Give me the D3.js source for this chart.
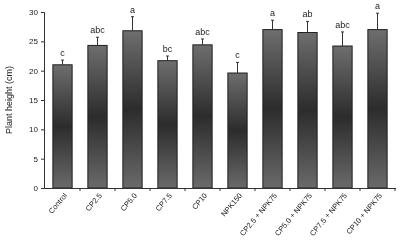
<!DOCTYPE html>
<html><head><meta charset="utf-8">
<script src="https://cdn.jsdelivr.net/npm/d3@7/dist/d3.min.js"></script>
<style>body{margin:0;background:#fff}svg{display:block;font-family:"Liberation Sans",Arial,sans-serif}</style>
</head><body><svg id="c" width="400" height="244"></svg>
<script>
const categories = ["Control","CP2.5","CP5.0","CP7.5","CP10","NPK150","CP2.5 + NPK75","CP5.0 + NPK75","CP7.5 + NPK75","CP10 + NPK75"];
const means = [21.0, 24.3, 26.8, 21.7, 24.4, 19.6, 27.0, 26.5, 24.2, 27.0];
const errors = [0.8, 1.4, 2.4, 0.8, 1.0, 1.8, 1.6, 1.9, 2.4, 2.8];
const letters = ["c","abc","a","bc","abc","c","a","ab","abc","a"];
const yTicks = [0,5,10,15,20,25,30];

const svg = d3.select("#c");
const x = d3.scaleBand().domain(categories).range([45,395]).paddingInner(0.45).paddingOuter(0.225);
const y = d3.scaleLinear().domain([0,30]).range([188,12]);

const defs = svg.append("defs");
const g = defs.append("linearGradient").attr("id","bg").attr("x1",0).attr("y1",0).attr("x2",0).attr("y2",1);
g.append("stop").attr("offset","0%").attr("stop-color","#6e6e6e");
g.append("stop").attr("offset","50%").attr("stop-color","#2c2c2c");
g.append("stop").attr("offset","100%").attr("stop-color","#6a6a6a");
const f = defs.append("filter").attr("id","gray").attr("filterUnits","userSpaceOnUse")
  .attr("x",0).attr("y",0).attr("width",400).attr("height",244);
f.append("feColorMatrix").attr("type","saturate").attr("values",0);

const root = svg.append("g").attr("filter","url(#gray)");
root.append("rect").attr("width",400).attr("height",244).attr("fill","#fff");

// bars
root.selectAll("rect.bar").data(categories).join("rect").attr("class","bar")
  .attr("x", d=>x(d)).attr("width", x.bandwidth())
  .attr("y", (d,i)=>y(means[i])).attr("height",(d,i)=>y(0)-y(means[i]))
  .attr("fill","url(#bg)").attr("stroke","#1e1e1e").attr("stroke-width",1);

// error bars
const cx = d=>x(d)+x.bandwidth()/2;
root.selectAll("line.err").data(categories).join("line").attr("class","err")
  .attr("x1",cx).attr("x2",cx)
  .attr("y1",(d,i)=>y(means[i])).attr("y2",(d,i)=>y(means[i]+errors[i]))
  .attr("stroke","#333").attr("stroke-width",1);
root.selectAll("line.cap").data(categories).join("line").attr("class","cap")
  .attr("x1",d=>cx(d)-1.5).attr("x2",d=>cx(d)+1.5)
  .attr("y1",(d,i)=>y(means[i]+errors[i])).attr("y2",(d,i)=>y(means[i]+errors[i]))
  .attr("stroke","#333").attr("stroke-width",1);

// letters
root.selectAll("text.let").data(categories).join("text").attr("class","let")
  .attr("x",cx).attr("y",(d,i)=>y(means[i]+errors[i])-4)
  .attr("text-anchor","middle").attr("font-size",9).attr("fill","#222")
  .text((d,i)=>letters[i]);

// y axis
const ya = root.append("g").attr("transform","translate(44,0)")
  .call(d3.axisLeft(y).tickValues(yTicks).tickSize(3).tickPadding(3));
ya.select(".domain").attr("stroke","#333");
ya.selectAll("line").attr("stroke","#333");
ya.selectAll("text").attr("font-size",8).attr("fill","#222").attr("font-family","Liberation Sans, Arial, sans-serif");

// x axis: line with ticks between categories
root.append("line").attr("x1",44).attr("x2",396).attr("y1",188.5).attr("y2",188.5).attr("stroke","#333");
const bounds = categories.map(c=>x(c)+x.bandwidth()+x.step()*x.paddingInner()/2);
root.selectAll("line.xt").data(bounds).join("line").attr("class","xt")
  .attr("x1",d=>d).attr("x2",d=>d).attr("y1",188).attr("y2",191).attr("stroke","#333");

root.selectAll("text.xl").data(categories).join("text").attr("class","xl")
  .attr("transform",d=>`translate(${cx(d)+3},${194}) rotate(-50)`)
  .attr("text-anchor","end").attr("font-size",7.5).attr("fill","#222")
  .attr("dy","0.35em")
  .text(d=>d);

root.append("text").attr("transform","translate(12,100) rotate(-90)")
  .attr("text-anchor","middle").attr("font-size",9).attr("fill","#222")
  .text("Plant height (cm)");
</script></body></html>
